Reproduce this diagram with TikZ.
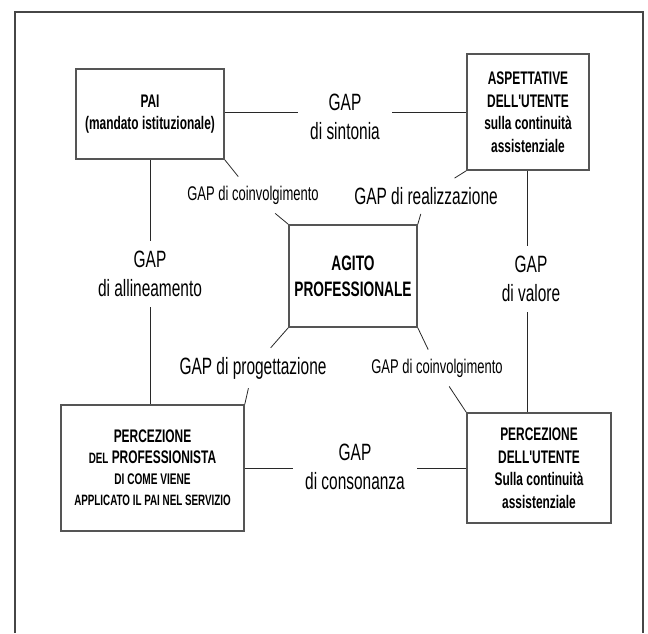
\documentclass[tikz,border=0pt]{standalone}
\usepackage{fontspec}
\usepackage{tikz}
\usetikzlibrary{positioning,calc}
\newfontfamily\narrowsans[FakeStretch=0.655]{Liberation Sans}
\definecolor{framegray}{RGB}{70,70,70}
\definecolor{boxgray}{RGB}{85,85,85}
\definecolor{linegray}{RGB}{40,40,40}

\begin{document}
\begin{tikzpicture}[x=1pt, y=-1pt,
  gapbox/.style={draw=boxgray, line width=1.6pt, fill=white, align=center,
    inner sep=0pt, font=\narrowsans\bfseries\fontsize{18.2}{22.5}\selectfont},
  gaplbl/.style={align=center, inner xsep=12pt, inner ysep=8pt,
    font=\narrowsans\fontsize{23.6}{29}\selectfont},
  gapsmall/.style={gaplbl, font=\narrowsans\fontsize{19.8}{22}\selectfont},
  link/.style={draw=linegray, line width=0.8pt}]
  \useasboundingbox (0,0) rectangle (648,633);

  % Open frame round the picture
  \draw[framegray, line width=1.5pt] (15,633) -- (15,12) -- (643,12) -- (643,633);

  % Boxes
  \node[gapbox, minimum width=148, minimum height=90] (pai) at (150,114)
    {PAI\\(mandato istituzionale)};
  \node[gapbox, minimum width=122, minimum height=116] (asp) at (528,112)
    {ASPETTATIVE\\DELL'UTENTE\\sulla continuità\\assistenziale};
  \node[gapbox, minimum width=128, minimum height=102,
    font=\narrowsans\bfseries\fontsize{20.9}{26}\selectfont] (agito) at (353,276)
    {AGITO\\PROFESSIONALE};
  \node[gapbox, minimum width=183, minimum height=126,
    font=\narrowsans\bfseries\fontsize{18.2}{21}\selectfont] (prof) at (152.5,468)
    {PERCEZIONE\\{\fontsize{15}{21}\selectfont DEL} PROFESSIONISTA\\
     {\fontsize{15.4}{21}\selectfont DI COME VIENE}\\
     {\fontsize{15}{21}\selectfont APPLICATO IL PAI NEL SERVIZIO}};
  \node[gapbox, minimum width=144, minimum height=110] (ute) at (539,468)
    {PERCEZIONE\\DELL'UTENTE\\Sulla continuità\\assistenziale};

  % Gap labels
  \node[gaplbl] (sint) at (345,117) {GAP\\di sintonia};
  \node[gaplbl, inner ysep=10pt] (allin) at (150,274) {GAP\\di allineamento};
  \node[gaplbl, inner ysep=10pt] (valore) at (531,279) {GAP\\di valore};
  \node[gaplbl] (cons) at (355,467) {GAP\\di consonanza};
  \node[gapsmall, inner ysep=9pt] (coinvA) at (253,195) {GAP di coinvolgimento};
  \node[gaplbl, inner ysep=9pt] (real) at (426,196) {GAP di realizzazione};
  \node[gaplbl, inner ysep=9pt] (prog) at (253,368) {GAP di progettazione};
  \node[gapsmall, inner ysep=9pt] (coinvB) at (437,368) {GAP di coinvolgimento};
  \coordinate (vx) at (527,0);

  % Outer links
  \draw[link] (pai.east |- asp.west) -- (sint.west |- asp.west);
  \draw[link] (sint.east |- asp.west) -- (asp.west);
  \draw[link] (pai.south) -- (pai.south |- allin.north);
  \draw[link] (pai.south |- allin.south) -- (pai.south |- prof.north);
  \draw[link] (vx |- asp.south) -- (vx |- valore.north);
  \draw[link] (vx |- valore.south) -- (vx |- ute.north);
  \draw[link] (prof.east) -- (cons.west |- prof.east);
  \draw[link] (cons.east |- ute.west) -- (ute.west);

  % Diagonal links to the centre
  \draw[link] (pai.south east) -- (coinvA);
  \draw[link] (coinvA) -- (agito.north west);
  \draw[link] (asp.south west) -- (real);
  \draw[link] (real) -- (agito.north east);
  \draw[link] (agito.south west) -- (prog);
  \draw[link] (prog) -- (prof.north east);
  \draw[link] (agito.south east) -- (coinvB);
  \draw[link] (coinvB) -- (ute.north west);
\end{tikzpicture}
\end{document}
